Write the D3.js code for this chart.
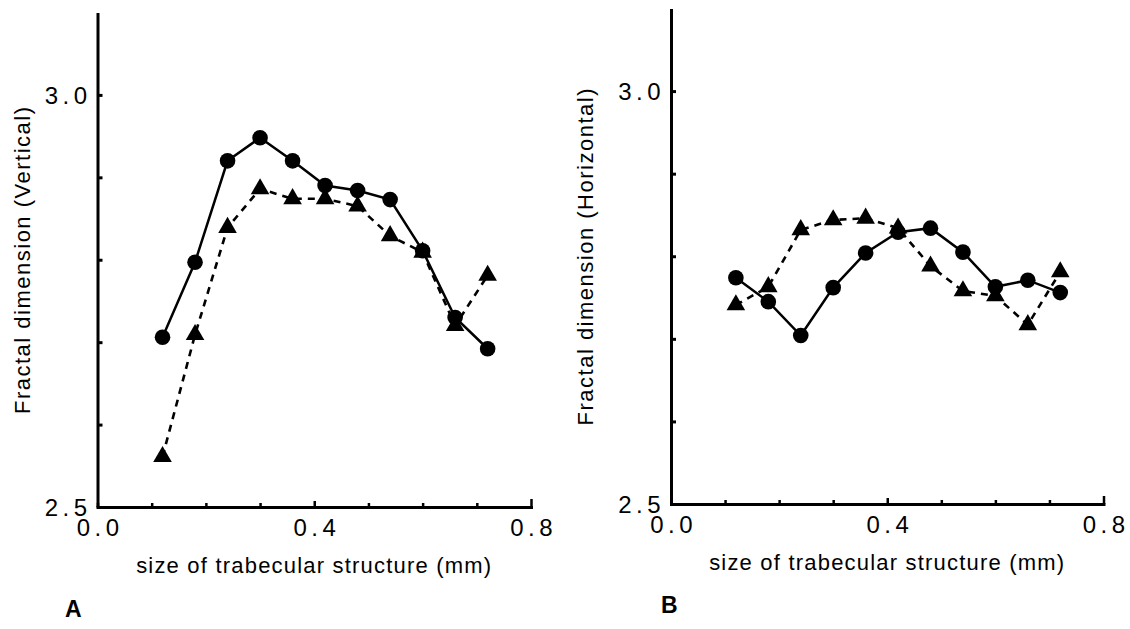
<!DOCTYPE html>
<html>
<head>
<meta charset="utf-8">
<script src="https://cdn.jsdelivr.net/npm/d3@7"></script>
<style>
  body { margin: 0; background: #fff; }
  svg { display: block; font-family: "Liberation Sans", Arial, Helvetica, sans-serif; }
  .axis path, .axis line { stroke: #000; }
  .axis text { fill: #000; }
</style>
</head>
<body>
<div id="chart"></div>
<script>

// trabecular size (mm) on the x axis, same for both panels
var sizes = [0.12, 0.18, 0.24, 0.30, 0.36, 0.42, 0.48, 0.54, 0.60, 0.66, 0.72];

// panel A - vertical fractal dimension
var vertCircle   = [2.706, 2.797, 2.920, 2.948, 2.920, 2.890, 2.884, 2.873, 2.811, 2.730, 2.692];
var vertTriangle = [2.561, 2.709, 2.839, 2.886, 2.874, 2.874, 2.865, 2.829, 2.809, 2.720, 2.781];

// panel B - horizontal fractal dimension
var horizCircle   = [2.774, 2.745, 2.704, 2.762, 2.804, 2.829, 2.834, 2.805, 2.763, 2.771, 2.756];
var horizTriangle = [2.741, 2.763, 2.832, 2.844, 2.846, 2.834, 2.788, 2.758, 2.752, 2.717, 2.781];

// axis ticks and labels
var xTicks = [0, 0.1, 0.2, 0.3, 0.4, 0.5, 0.6, 0.7, 0.8];
var xLabels = {"0": "0.0", "0.4": "0.4", "0.8": "0.8"};
var yTicks = [2.5, 2.6, 2.7, 2.8, 2.9, 3.0];
var yLabels = {"2.5": "2.5", "3": "3.0"};
var yDomain = [2.5, 3.1];
var xDomain = [0, 0.8];

var xTitle = "size of trabecular structure (mm)";

var svg = d3.select("#chart").append("svg")
        .attr("width", 1130)
        .attr("height", 629);

function zip(xs, ys) {
    return xs.map(function (d, i) { return {x: d, y: ys[i]}; });
}

function panel(opt) {
    var x = d3.scaleLinear().domain(xDomain).range([opt.left, opt.right]);
    var y = d3.scaleLinear().domain(yDomain).range([opt.bottom, opt.top]);

    var g = svg.append("g");

    // y axis, ticks point inwards
    var yAxis = d3.axisLeft(y)
            .tickValues(yTicks)
            .tickSizeInner(-5)
            .tickSizeOuter(0)
            .tickPadding(6)
            .tickFormat(function (d) { return yLabels[String(+d.toFixed(1))] || ""; });

    var yg = g.append("g")
            .attr("class", "y axis")
            .attr("transform", "translate(" + opt.left + ",0)")
            .call(yAxis);
    yg.select(".domain").attr("stroke-width", 3);
    yg.selectAll(".tick line").attr("stroke-width", 3);
    yg.selectAll(".tick text")
            .attr("font-size", 24)
            .attr("letter-spacing", 4.5)
            .attr("dy", "0.36em");

    // x axis
    var xAxis = d3.axisBottom(x)
            .tickValues(xTicks)
            .tickSizeInner(-4)
            .tickSizeOuter(0)
            .tickPadding(12)
            .tickFormat(function (d) { return xLabels[String(+d.toFixed(1))] || ""; });

    var xg = g.append("g")
            .attr("class", "x axis")
            .attr("transform", "translate(0," + opt.bottom + ")")
            .call(xAxis);
    xg.select(".domain").attr("stroke-width", 3).attr("stroke-linecap", "square");
    xg.selectAll(".tick line")
            .attr("stroke-width", 2.5)
            .attr("y2", function (d) { return d == 0.4 ? -6 : (d == 0.8 ? -8 : -4); });
    xg.selectAll(".tick text")
            .attr("font-size", 24)
            .attr("letter-spacing", 4.5)
            .attr("dx", 2.2);

    // titles
    g.append("text")
            .attr("x", (opt.left + opt.right) / 2)
            .attr("y", opt.bottom + 66)
            .attr("text-anchor", "middle")
            .attr("font-size", 22)
            .attr("letter-spacing", 1.2)
            .text(xTitle);

    g.append("text")
            .attr("transform", "translate(" + opt.ylabX + "," + (opt.top + opt.bottom) / 2 + ") rotate(-90)")
            .attr("text-anchor", "middle")
            .attr("font-size", 22)
            .attr("letter-spacing", 1.5)
            .text(opt.yTitle);

    g.append("text")
            .attr("x", opt.tagX)
            .attr("y", opt.tagY)
            .attr("font-size", 23)
            .attr("font-weight", "bold")
            .text(opt.tag);

    var line = d3.line()
            .x(function (d) { return x(d.x); })
            .y(function (d) { return y(d.y); });

    var circ = zip(sizes, opt.circle);
    var tri = zip(sizes, opt.triangle);

    // dashed series (triangles)
    g.append("path")
            .datum(tri)
            .attr("fill", "none")
            .attr("stroke", "#000")
            .attr("stroke-width", 2.6)
            .attr("stroke-dasharray", "7,6")
            .attr("d", line);

    // solid series (circles)
    g.append("path")
            .datum(circ)
            .attr("fill", "none")
            .attr("stroke", "#000")
            .attr("stroke-width", 2.5)
            .attr("d", line);

    g.selectAll("path.tri")
            .data(tri)
            .enter().append("path")
            .attr("class", "tri")
            .attr("transform", function (d) { return "translate(" + x(d.x) + "," + y(d.y) + ")"; })
            .attr("d", d3.symbol().type(d3.symbolTriangle).size(150));

    g.selectAll("circle")
            .data(circ)
            .enter().append("circle")
            .attr("cx", function (d) { return x(d.x); })
            .attr("cy", function (d) { return y(d.y); })
            .attr("r", 7.8);
}

panel({
    left: 97.5, right: 531, top: 12.5, bottom: 507,
    yTitle: "Fractal dimension (Vertical)", ylabX: 30,
    tag: "A", tagX: 65, tagY: 617,
    circle: vertCircle, triangle: vertTriangle
});

panel({
    left: 671, right: 1103.5, top: 8.5, bottom: 504,
    yTitle: "Fractal dimension (Horizontal)", ylabX: 593,
    tag: "B", tagX: 661, tagY: 613,
    circle: horizCircle, triangle: horizTriangle
});

</script>
</body>
</html>
